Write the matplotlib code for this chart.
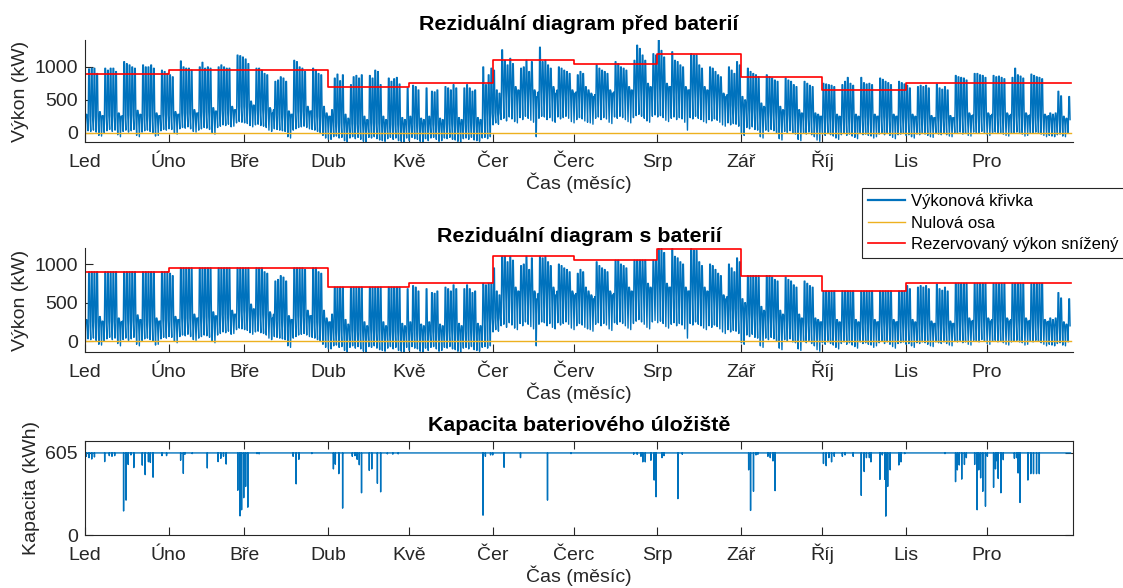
import numpy as np
import matplotlib
matplotlib.use("Agg")
import matplotlib.pyplot as plt

plt.rcParams['font.family'] = ['Liberation Sans', 'DejaVu Sans']

# --- data (year 2018, hourly axis) ---
month_days = [31, 28, 31, 30, 31, 30, 31, 31, 30, 31, 30, 31]
months_a = ['Led', 'Úno', 'Bře', 'Dub', 'Kvě', 'Čer', 'Čerc', 'Srp', 'Zář', 'Říj', 'Lis', 'Pro']
months_b = ['Led', 'Úno', 'Bře', 'Dub', 'Kvě', 'Čer', 'Červ', 'Srp', 'Zář', 'Říj', 'Lis', 'Pro']

# reserved power (reduced) per month, kW
reserved = [900, 950, 950, 700, 750, 1100, 1050, 1200, 850, 650, 750, 750]

# daily peaks, one row per week (Mon..Sun), kW
peak_w = [
    [280, 970, 980, 980, 900, 320, 260],
    [980, 950, 980, 980, 930, 300, 250],
    [1080, 1050, 1030, 1000, 980, 340, 280],
    [1030, 1000, 1000, 1030, 980, 300, 260],
    [950, 930, 900, 880, 850, 320, 280],
    [1090, 1000, 980, 980, 950, 350, 300],
    [1000, 1070, 980, 1000, 980, 380, 330],
    [1000, 1030, 1000, 980, 980, 400, 350],
    [1180, 1170, 1150, 1120, 1050, 480, 420],
    [980, 980, 950, 900, 880, 380, 300],
    [780, 800, 850, 830, 780, 330, 280],
    [1100, 1080, 1000, 980, 930, 400, 330],
    [980, 950, 900, 880, 400, 300, 250],
    [350, 830, 890, 790, 880, 280, 220],
    [730, 850, 870, 830, 880, 250, 200],
    [870, 830, 950, 930, 730, 250, 200],
    [830, 780, 820, 840, 740, 230, 200],
    [680, 250, 720, 700, 650, 220, 200],
    [680, 250, 630, 620, 650, 220, 200],
    [700, 680, 650, 730, 680, 230, 200],
    [680, 730, 680, 630, 650, 230, 200],
    [1000, 730, 880, 980, 950, 650, 600],
    [1260, 1100, 1030, 1130, 1050, 700, 650],
    [980, 1000, 1100, 930, 1080, 650, 550],
    [1300, 1080, 1100, 1030, 980, 700, 600],
    [1000, 980, 950, 930, 900, 650, 600],
    [880, 930, 900, 700, 650, 600, 550],
    [1030, 980, 950, 930, 900, 650, 600],
    [1080, 1050, 1000, 980, 950, 700, 650],
    [1100, 1330, 1280, 1180, 1100, 750, 700],
    [1200, 1180, 1410, 1250, 1150, 750, 700],
    [1230, 1100, 1080, 1030, 1000, 700, 650],
    [1200, 1180, 1180, 1030, 980, 700, 650],
    [1000, 980, 930, 880, 850, 600, 550],
    [1000, 950, 900, 1080, 1030, 550, 500],
    [980, 930, 900, 880, 850, 450, 400],
    [880, 850, 830, 800, 780, 400, 350],
    [830, 800, 780, 730, 700, 350, 300],
    [780, 750, 720, 700, 300, 280, 250],
    [750, 740, 730, 720, 700, 280, 250],
    [730, 780, 840, 750, 720, 280, 250],
    [840, 760, 740, 750, 730, 280, 250],
    [830, 810, 780, 760, 730, 280, 250],
    [780, 760, 740, 720, 680, 280, 250],
    [700, 720, 700, 720, 680, 260, 230],
    [740, 680, 660, 700, 650, 260, 230],
    [870, 850, 840, 830, 800, 300, 260],
    [900, 900, 880, 870, 840, 300, 260],
    [870, 850, 860, 840, 820, 300, 260],
    [840, 980, 880, 860, 830, 300, 260],
    [890, 870, 850, 840, 820, 280, 250],
    [300, 280, 300, 630, 560, 250, 220],
    [550],
]

# daily night minimum, one row per week, kW
low_w = [
    [-20, 30, 20, 40, 10, -40, -50],
    [0, 30, 50, 20, 40, -30, -60],
    [20, 40, 10, 30, 50, -40, -60],
    [10, 30, 40, 20, 0, -50, -40],
    [30, 50, 40, 60, 50, 0, -20],
    [60, 80, 70, 90, 60, 20, 10],
    [40, 60, 80, 70, 50, 0, -20],
    [80, 100, 120, 110, 130, 90, 100],
    [150, 170, 160, 150, 140, 110, 90],
    [120, 130, 110, 100, 80, 40, 20],
    [60, 50, 40, 30, 20, -60, -80],
    [40, 60, 80, 90, 100, 80, 60],
    [50, 40, 20, 0, -40, -80, -100],
    [-100, -60, -50, -80, -70, -120, -140],
    [-80, -60, -90, -70, -100, -130, -140],
    [-70, -80, -60, -90, -110, -120, -130],
    [-90, -70, -100, -80, -120, -130, -140],
    [-80, -120, -70, -90, -100, -130, -140],
    [-90, -120, -80, -70, -100, -130, -120],
    [-80, -90, -70, -100, -110, -130, -140],
    [-90, -80, -100, -70, -110, -120, -130],
    [-80, -70, -90, -60, 120, 150, 130],
    [200, 220, 180, 240, 210, 170, 150],
    [230, 200, 250, 220, 190, 160, -60],
    [220, 250, 240, 200, 230, 180, 160],
    [240, 210, 230, 250, 220, 170, 150],
    [200, 230, 210, 180, 160, 150, 130],
    [220, 240, 200, 230, 210, 160, 140],
    [240, 220, 250, 230, 200, 170, 150],
    [230, 260, 280, 250, 220, 180, 160],
    [250, 270, 240, 260, 230, 190, 170],
    [220, 240, 200, 230, 210, 160, 40],
    [230, 210, 250, 220, 200, 170, 150],
    [200, 180, 210, 190, 160, 120, 100],
    [150, 120, 140, 130, 100, -20, -40],
    [80, 60, 90, 50, 40, -60, -80],
    [40, 20, 50, 30, 0, -90, -110],
    [20, 0, 30, -10, -20, -100, -120],
    [0, -20, 10, -30, -60, -110, -130],
    [-20, -40, -10, -30, -50, -80, -100],
    [-30, -10, -40, -20, -50, -70, -90],
    [-10, -30, -20, -40, -50, -80, -60],
    [-20, 0, -30, -10, -40, -70, -90],
    [-30, -20, -10, -40, -30, -60, -80],
    [-20, -30, -10, -20, -40, -60, -70],
    [-10, -20, -30, -10, -30, -50, -60],
    [0, -10, 10, -20, -10, -40, -50],
    [10, 0, -10, 20, 0, -30, -40],
    [0, 10, -10, 0, -20, -40, -50],
    [-10, 0, 10, -10, -20, -50, -40],
    [0, -10, 10, 0, -20, -40, -60],
    [-40, -50, -60, -30, -20, -50, -60],
    [-10],
]

# typical evening level per week, kW
eve_w = [250, 260, 270, 260, 280, 300, 320, 350, 400, 350, 280, 330, 250,
         150, 140, 150, 130, 140, 130, 140, 150, 300,
         640, 620, 650, 620, 580, 620, 640, 680, 700, 650, 640, 580,
         420, 360, 320, 280, 250,
         240, 240, 250, 250, 240, 230, 230, 270, 280, 280, 270, 260, 200, 200]

# battery state of charge: full level and discharge dips (day of year, kWh)
cap_full = 605
dip_day = [0.5, 1.5, 2.5, 3.5, 7.3, 9, 10, 11, 14.3, 15.2, 16, 17, 18.1, 21.2, 22.3, 23.5,
           24.2, 25.2, 28.5, 30.2, 35.4, 36.4, 37, 39.7, 45.3, 49.3, 50.3, 51.3, 52.3,
           56.6, 57.4, 58, 58.8, 59.5, 60.3, 63.7, 64.5, 77.1, 78.2, 79.2, 84,
           92, 92.7, 94, 95.4, 99, 100, 100.8, 101.6, 102.4, 105.3, 106.2, 108.3, 109.5,
           112, 114, 116, 147.4, 148.3, 150.2, 151, 155.2, 161.3, 171.3,
           180, 203.2, 204.5, 205.9, 206.6, 207.5, 209.6, 210.8, 211.5, 213.7, 214.4,
           219.6, 221.2, 245.8, 246.5, 247.6, 248.5, 249.2, 252.9, 253.8, 254.8, 255.6,
           273.5, 274.5, 275.5, 276.5, 277.5, 280.5, 281.5, 284.5, 287.5, 288.6, 289.4,
           290.5, 291.1, 294.4, 295.3, 296.2, 296.6, 297.3, 298.2, 301.4, 302.2, 303.6,
           318.5, 322.4, 323.1, 323.8, 324.7, 325.7, 326.4, 329.5, 330.4, 331.0, 331.7,
           332.5, 333.5, 334.2, 336.5, 337.2, 337.8, 338.2, 339.2, 340.1, 344.2, 345.0,
           345.6, 346.3, 349.2, 350.3, 351.3, 352.4, 353.4]
dip_kwh = [580, 570, 560, 575, 541, 585, 580, 585, 177, 257, 520, 590, 497, 515, 445, 540,
           535, 426, 585, 585, 551, 454, 595, 600, 494, 541, 565, 580, 523,
           330, 141, 186, 275, 358, 205, 600, 598, 580, 377, 558, 600,
           487, 522, 452, 198, 580, 585, 558, 518, 311, 476, 487, 381, 318,
           598, 596, 598, 146, 580, 590, 590, 499, 570, 257,
           600, 595, 595, 580, 539, 539, 551, 405, 282, 570, 585,
           268, 595, 480, 181, 322, 590, 595, 580, 570, 546, 327,
           527, 511, 570, 539, 580, 580, 590, 580, 292, 468, 570,
           570, 539, 410, 590, 410, 139, 358, 480, 516, 539, 600,
           600, 393, 480, 516, 412, 520, 570, 520, 186, 480, 421,
           322, 212, 580, 351, 487, 546, 417, 311, 555, 565, 570,
           457, 240, 405, 452, 452, 452, 452]

# --- build series on an hourly time axis ---
n_days = sum(month_days)
month_start = np.concatenate([[0], np.cumsum(month_days)[:-1]]) * 24
year_end = n_days * 24

peak = np.concatenate([np.array(r, float) for r in peak_w])[:n_days]
low = np.concatenate([np.array(r, float) for r in low_w])[:n_days]
eve = np.repeat(np.array(eve_w, float), 7)[:n_days]

t = (np.arange(n_days)[:, None] * 24 + np.array([3, 9, 15, 20])).ravel()
power = np.column_stack([low, peak, peak, eve]).ravel()

res_arr = np.array(reserved, float)
res_t = res_arr[np.searchsorted(month_start, t, side='right') - 1]
power_bat = np.minimum(power, res_t)

step_x = np.append(month_start, year_end)
step_y = np.append(res_arr, res_arr[-1])

cap_t = np.arange(year_end + 1)
cap = np.full(cap_t.shape, float(cap_full))
cap[0] = 0
cap[np.round(np.array(dip_day) * 24).astype(int)] = dip_kwh

# --- figure ---
W, H = 1123, 588
fig = plt.figure(figsize=(W / 100, H / 100), dpi=100)

def box(l, t_, r, b):
    return [l / W, 1 - b / H, (r - l) / W, (b - t_) / H]

blue = '#0072BD'
yellow = '#EDB120'
gray = '#262626'
xmax = 8782

def style(ax, labels, boxed=False):
    ax.set_xlim(0, xmax)
    ax.set_xticks(month_start)
    ax.set_xticklabels(labels)
    ax.tick_params(direction='in', length=6, width=0.8, colors=gray,
                   labelsize=14, pad=5, top=boxed, right=boxed)
    ax.tick_params(axis='x', pad=18)
    for lab in ax.get_xticklabels():
        lab.set_verticalalignment('baseline')
    for s in ax.spines.values():
        s.set_color(gray)
        s.set_linewidth(0.8)
    if not boxed:
        ax.spines['top'].set_visible(False)
        ax.spines['right'].set_visible(False)
    ax.set_xlabel('Čas (měsíc)', fontsize=14, color=gray, labelpad=1)

ax1 = fig.add_axes(box(85, 40, 1073, 142))
l1, = ax1.plot(t, power, color=blue, lw=1.0, label='Výkonová křivka')
l2, = ax1.plot([0, year_end], [0, 0], color=yellow, lw=1.0, label='Nulová osa')
l3, = ax1.step(step_x, step_y, where='post', color='red', lw=1.2,
               label='Rezervovaný výkon snížený')
ax1.set_ylim(power.min(), power.max())
ax1.set_yticks([0, 500, 1000])
style(ax1, months_a)
ax1.set_ylabel('Výkon (kW)', fontsize=14, color=gray)
ax1.set_title('Reziduální diagram před baterií', fontsize=15.4, fontweight='bold', pad=7)

ax2 = fig.add_axes(box(85, 248, 1073, 352))
ax2.plot(t, power_bat, color=blue, lw=1.0)
ax2.plot([0, year_end], [0, 0], color=yellow, lw=1.0)
ax2.step(step_x, step_y, where='post', color='red', lw=1.2)
ax2.set_ylim(power_bat.min(), power_bat.max() + 10)
ax2.set_yticks([0, 500, 1000])
style(ax2, months_b)
ax2.set_ylabel('Výkon (kW)', fontsize=14, color=gray)
ax2.set_title('Reziduální diagram s baterií', fontsize=15.4, fontweight='bold', pad=4)

ax3 = fig.add_axes(box(85, 441, 1073, 535))
ax3.plot(cap_t, cap, color=blue, lw=1.0)
ax3.set_ylim(0, 693)
ax3.set_yticks([0, cap_full])
style(ax3, months_a, boxed=True)
ax3.set_ylabel('Kapacita (kWh)', fontsize=14, color=gray)
ax3.set_title('Kapacita bateriového úložiště', fontsize=15.4, fontweight='bold', pad=7)

leg = fig.legend([l1, l2, l3], [l1.get_label(), l2.get_label(), l3.get_label()],
                 loc='upper left', bbox_to_anchor=(862 / W, 1 - 188 / H),
                 fontsize=12, frameon=True, fancybox=False, framealpha=1,
                 edgecolor=gray, handlelength=2.2, handletextpad=0.4,
                 borderpad=0.35, labelspacing=0.4, borderaxespad=0)
leg.get_frame().set_linewidth(0.8)
leg.get_lines()[0].set_linewidth(1.6)

fig.savefig('out.png', dpi=100)
